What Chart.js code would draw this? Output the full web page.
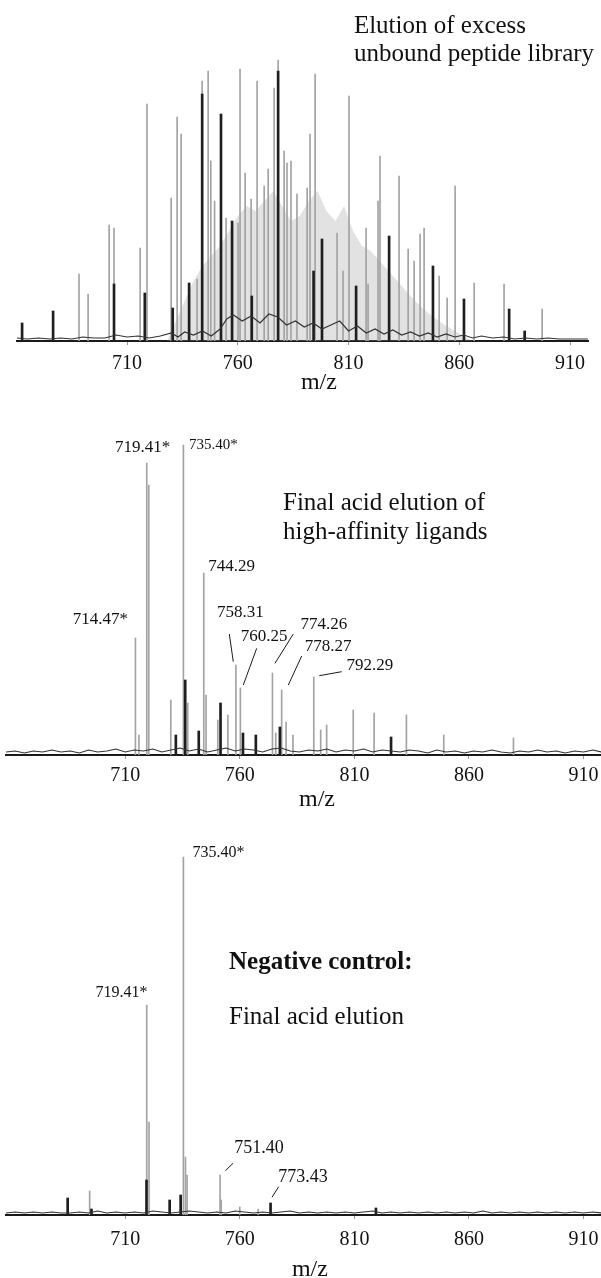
<!DOCTYPE html>
<html><head><meta charset="utf-8">
<script src="https://cdn.jsdelivr.net/npm/chart.js@4.4.1/dist/chart.umd.min.js"></script>
<style>
html,body{margin:0;padding:0;background:#fff;}
#wrap{position:relative;width:601px;height:1278px;overflow:hidden;}
canvas{position:absolute;left:0;}
</style></head><body>
<div id="wrap">
<canvas id="c1" width="601" height="395" style="top:0px"></canvas>
<canvas id="c2" width="601" height="420" style="top:395px"></canvas>
<canvas id="c3" width="601" height="463" style="top:815px"></canvas>
</div>
<script>
// ---------- shared ----------
const tickValues = [710, 760, 810, 860, 910];
const axisTitle = 'm/z';

// ---------- Panel 1: elution of excess unbound peptide library ----------
const p1GrayMz  = [688.3,692.4,701.9,704.1,715.9,719.0,729.9,732.6,734.4,741.6,743.9,746.6,747.8,749.5,754.7,760.1,761.0,763.3,766.0,768.7,771.9,773.7,776.4,778.2,780.9,782.2,784.0,786.7,791.3,792.6,794.9,804.8,807.5,810.2,817.9,818.8,823.3,824.2,832.8,836.9,839.6,842.3,844.1,850.9,854.5,858.1,866.7,880.2,897.4];
const p1GrayInt = [67,47,116,113,93,237,143,224,207,62,260,270,180,140,123,118,272,168,142,260,155,172,253,281,190,178,180,147,153,207,267,108,70,245,113,57,140,185,165,92,80,107,113,65,43,155,58,57,32];
const p1DarkMz  = [662.6,676.6,704.1,718.0,730.6,738.0,743.9,752.4,757.4,766.3,778.2,794.2,798.0,813.4,828.3,848.1,862.1,882.5,889.5];
const p1DarkInt = [18,30,57,48,33,58,247,227,120,45,270,70,102,55,105,75,42,32,10];
const p1HazeMz  = [728,732,736,740,744,748,752,756,760,764,768,772,776,780,784,788,792,796,800,804,808,812,816,820,824,828,832,836,840,846,852,858,866];
const p1HazeInt = [0,20,40,60,75,85,95,110,125,135,130,140,150,135,120,125,140,150,130,120,135,110,95,90,80,70,60,50,40,28,18,10,0];
const p1BaseMz  = [660.3,665,670,675,680,685,690,695,700,705,710,715,720,725,730,733,736,740,744,748,752,755,758,762,766,770,774,778,782,786,790,794,798,802,806,810,814,818,822,826,830,834,838,842,846,850,854,858,862,866,870,875,880,885,890,895,900,905,910,918];
const p1BaseInt = [3,2,3,2,3,2,4,3,3,6,4,5,3,5,8,4,9,6,10,5,12,22,26,20,25,18,27,24,16,20,14,18,12,16,20,10,15,8,12,7,11,6,9,5,8,4,7,4,6,3,5,3,4,2,3,2,3,2,2,2];
const p1Captions = ['Elution of excess', 'unbound peptide library'];

// ---------- Panel 2: final acid elution of high-affinity ligands ----------
const p2GrayMz  = [714.47,716.0,719.41,720.3,729.9,735.40,737.3,744.29,745.3,750.4,754.8,758.31,760.25,774.26,775.7,778.27,780.2,783.2,792.29,795.3,797.9,809.5,818.6,832.7,849.0,879.4];
const p2GrayInt = [117,20,292,270,55,310,52,182,60,35,40,90,67,82,22,65,33,20,78,25,30,45,42,40,20,17];
const p2DarkMz  = [732.1,736.2,742.1,751.6,761.4,767.0,777.5,826.0];
const p2DarkInt = [20,75,24,52,22,20,28,18];
const p2BaseMz  = [658,662,666,670,674,678,682,686,690,694,698,702,706,710,714,718,722,726,730,734,738,742,746,750,754,758,762,766,770,774,778,782,786,790,794,798,802,806,810,814,818,822,826,830,834,838,842,846,850,854,858,862,866,870,874,878,882,886,890,894,898,902,906,910,914,918];
const p2BaseInt = [3,4,2,4,3,5,3,4,2,5,3,4,6,3,5,4,6,3,5,7,4,6,3,5,7,4,6,5,3,6,7,4,3,5,4,6,3,5,4,6,3,5,4,3,5,4,2,5,3,4,2,4,3,5,3,2,4,3,5,3,4,2,4,3,5,3];
const p2LabelText = ['719.41*','735.40*','744.29','714.47*','758.31','760.25','774.26','778.27','792.29'];
const p2LabelMz   = [717.56,748.53,756.39,699.23,760.31,770.57,796.74,798.49,816.81];
const p2LabelInt  = [307,310,188,135,142,118,130,108,89];
const p2Captions  = ['Final acid elution of', 'high-affinity ligands'];

// ---------- Panel 3: negative control ----------
const p3GrayMz  = [694.5,719.41,720.4,735.40,736.3,737.0,751.40,751.9,760.0,768.0];
const p3GrayInt = [24,210,93,358,58,40,40,15,8,6];
const p3DarkMz  = [684.9,695.3,719.3,729.4,734.2,773.43,819.4];
const p3DarkInt = [17,6,35,15,20,12,7];
const p3BaseMz  = [658,662,666,670,674,678,682,686,690,694,698,702,706,710,714,718,722,726,730,734,738,742,746,750,754,758,762,766,770,774,778,782,786,790,794,798,802,806,810,814,818,822,826,830,834,838,842,846,850,854,858,862,866,870,874,878,882,886,890,894,898,902,906,910,914,918];
const p3BaseInt = [2,3,2,3,2,3,2,2,3,2,4,2,3,2,3,2,4,3,2,3,4,3,2,3,2,4,3,2,3,2,3,4,2,3,2,3,2,3,2,3,4,2,3,2,3,2,3,2,3,2,3,2,4,2,3,2,3,2,3,2,3,2,3,2,3,2];
const p3LabelText = ['735.40*','719.41*','751.40','773.43'];
const p3LabelMz   = [750.71,708.39,768.38,787.58];
const p3LabelInt  = [362,222,67,38];
const p3Captions  = ['Negative control:', 'Final acid elution'];

// ---------- drawing helpers ----------
const SERIF = "'Liberation Serif','Times New Roman',serif";
const pts = (xs, ys) => xs.map((v, i) => ({x: v, y: ys[i]}));

const textPlugin = {
  id: 'panelText',
  afterDatasetsDraw(chart, args, o) {
    const {ctx} = chart; const xs = chart.scales.x, ys = chart.scales.y;
    ctx.save();
    ctx.fillStyle = '#111'; ctx.strokeStyle = '#1a1a1a'; ctx.lineWidth = 1;
    (o.captions || []).forEach(c => {
      ctx.font = c.font; ctx.textAlign = 'left'; ctx.textBaseline = 'middle';
      ctx.fillText(c.text, xs.getPixelForValue(c.mz), ys.getPixelForValue(c.at));
    });
    (o.labels || []).forEach(l => {
      ctx.font = l.font; ctx.textAlign = 'center'; ctx.textBaseline = 'middle';
      ctx.fillText(l.text, xs.getPixelForValue(l.mz), ys.getPixelForValue(l.at));
    });
    (o.leaders || []).forEach(s => {
      ctx.beginPath();
      ctx.moveTo(xs.getPixelForValue(s[0]), ys.getPixelForValue(s[1]));
      ctx.lineTo(xs.getPixelForValue(s[2]), ys.getPixelForValue(s[3]));
      ctx.stroke();
    });
    if (o.title) {
      ctx.font = o.title.font; ctx.textAlign = 'center'; ctx.textBaseline = 'middle';
      ctx.fillText(o.title.text, xs.getPixelForValue(o.title.mz), chart.chartArea.bottom + o.title.dy);
    }
    ctx.restore();
  }
};

function makePanel(id, p) {
  const datasets = [];
  if (p.haze) datasets.push({type: 'line', data: p.haze, fill: 'origin', backgroundColor: 'rgba(150,150,150,0.28)', borderWidth: 0, pointRadius: 0, order: 5});
  datasets.push({type: 'bar', data: p.gray, backgroundColor: '#a3a3a3', barThickness: 1, grouped: false, order: 4});
  datasets.push({type: 'line', data: p.base, borderColor: '#333', borderWidth: 1.2, pointRadius: 0, fill: false, tension: 0, order: 2});
  datasets.push({type: 'bar', data: p.dark, backgroundColor: '#1e1e1e', barThickness: 2, grouped: false, order: 3});
  return new Chart(document.getElementById(id), {
    type: 'bar',
    data: {datasets},
    options: {
      responsive: false, animation: false, devicePixelRatio: 1,
      layout: {padding: p.pad},
      plugins: {legend: {display: false}, tooltip: {enabled: false}, panelText: p.text},
      scales: {
        x: {
          type: 'linear', min: p.min, max: p.max, offset: false,
          afterBuildTicks: s => { s.ticks = tickValues.map(v => ({value: v})); },
          afterFit: s => { s.height = 40; s.paddingLeft = 0; s.paddingRight = 0; },
          grid: {display: true, offset: false, drawOnChartArea: false, drawTicks: true, tickLength: 4, color: '#999'},
          border: {display: true, color: '#1a1a1a', width: 2},
          ticks: {font: {family: SERIF, size: 20}, color: '#111', padding: p.tickPad, maxRotation: 0, autoSkip: false, callback: v => String(v)}
        },
        y: {type: 'linear', display: false, min: 0, max: p.ymax}
      }
    },
    plugins: [textPlugin]
  });
}

const capFont = "25px " + SERIF;
const capBold = "bold 25px " + SERIF;
const lab = (t, m, a, size) => ({text: t, mz: m, at: a, font: size + 'px ' + SERIF});

makePanel('c1', {
  min: 660.3, max: 918.1, ymax: 331, tickPad: 7, pad: {left: 17, right: 13, top: 10, bottom: 14},
  gray: pts(p1GrayMz, p1GrayInt), dark: pts(p1DarkMz, p1DarkInt), base: pts(p1BaseMz, p1BaseInt), haze: pts(p1HazeMz, p1HazeInt),
  text: {
    captions: [{text: p1Captions[0], mz: 812.4, at: 315, font: capFont}, {text: p1Captions[1], mz: 812.4, at: 287, font: capFont}],
    title: {text: axisTitle, mz: 796.6, dy: 42, font: '24px ' + SERIF}
  }
});

makePanel('c2', {
  min: 658, max: 917.6, ymax: 350, tickPad: 5, pad: {left: 6, right: 0, top: 10, bottom: 20},
  gray: pts(p2GrayMz, p2GrayInt), dark: pts(p2DarkMz, p2DarkInt), base: pts(p2BaseMz, p2BaseInt),
  text: {
    captions: [{text: p2Captions[0], mz: 778.86, at: 252, font: capFont}, {text: p2Captions[1], mz: 778.86, at: 223, font: capFont}],
    labels: p2LabelText.map((t, i) => lab(t, p2LabelMz[i], p2LabelInt[i], t === '735.40*' ? 15 : 17)),
    leaders: [[755.43,121,757.17,93.3],[767.38,106.7,761.53,70],[783.35,121,775.36,91.7],[787.01,99,781.17,70],[804.47,83.3,794.69,79.3]],
    title: {text: axisTitle, mz: 793.7, dy: 45, font: '24px ' + SERIF}
  }
});

makePanel('c3', {
  min: 658, max: 917.6, ymax: 390, tickPad: 9, pad: {left: 6, right: 0, top: 10, bottom: 23},
  gray: pts(p3GrayMz, p3GrayInt), dark: pts(p3DarkMz, p3DarkInt), base: pts(p3BaseMz, p3BaseInt),
  text: {
    captions: [{text: p3Captions[0], mz: 755.3, at: 252, font: capBold}, {text: p3Captions[1], mz: 755.3, at: 198, font: capFont}],
    labels: p3LabelText.map((t, i) => lab(t, p3LabelMz[i], p3LabelInt[i], (t === '751.40' || t === '773.43') ? 18 : 16)),
    leaders: [[753.72,44.3,757.04,51.7],[774.06,17.7,776.98,28.3]],
    title: {text: axisTitle, mz: 790.6, dy: 55, font: '24px ' + SERIF}
  }
});
</script>
</body></html>
